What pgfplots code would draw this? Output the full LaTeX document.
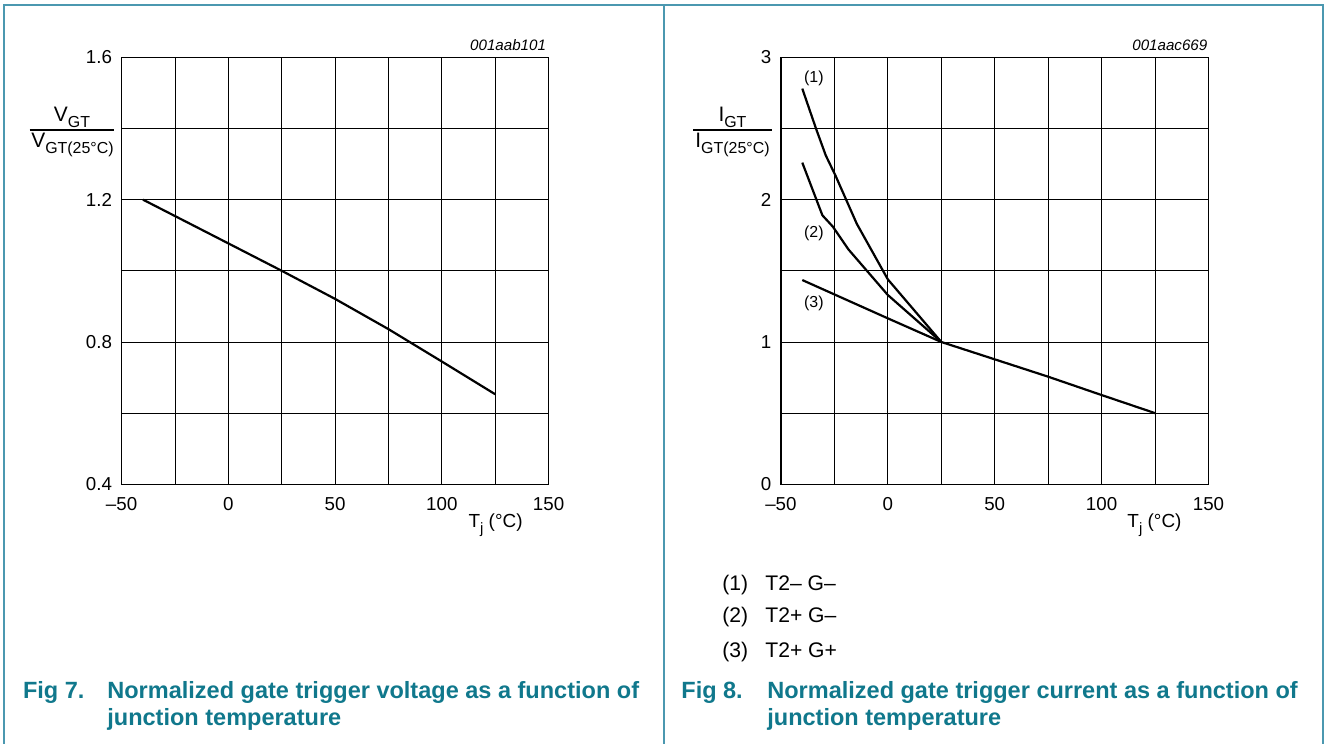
\documentclass[border=0pt]{standalone}
\usepackage{fontspec}
\setmainfont{Liberation Sans}
\usepackage{pgfplots}
\pgfplotsset{compat=1.18}

\definecolor{frame}{RGB}{75,152,176}
\definecolor{captxt}{RGB}{16,120,140}

\newcommand\sub[1]{\raisebox{-0.28em}{\fontsize{8}{9}\selectfont #1}}
\newcommand\xsub[1]{\raisebox{-0.28em}{\fontsize{7.5}{8}\selectfont #1}}

% common look of both graphs: square grid, no tick marks
\pgfplotsset{
  dsgraph/.style={
    anchor=south west,
    scale only axis,
    width=213.5bp, height=213.5bp,
    xmin=-50, xmax=150,
    xtick={-50,0,50,100,150},
    minor xtick={-25,25,75,125},
    xticklabels={–50,0,50,100,150},
    grid=both,
    major grid style={black, line width=0.4bp},
    minor grid style={black, line width=0.4bp},
    major tick length=0pt, minor tick length=0pt,
    axis line style={black, line width=0.5bp},
    tick label style={font=\fontsize{9.4}{10}\selectfont},
    xticklabel style={yshift=-3bp},
    yticklabel style={xshift=-1.3bp},
    clip=false,
  },
  curve/.style={black, line width=1.1bp},
}

\begin{document}
\begin{tikzpicture}
\path[use as bounding box] (0,0) rectangle (663bp,372bp);

% Fig 7: V_GT / V_GT(25C)
\begin{axis}[dsgraph, at={(60.8bp,129.85bp)},
  ymin=0.4, ymax=1.6,
  ytick={0.4,0.8,1.2,1.6},
  minor ytick={0.6,1.0,1.4},
  yticklabels={0.4,0.8,1.2,1.6},
]
\addplot[curve] table {
  -40  1.200
  0    1.077
  25   1.000
  50   0.921
  75   0.836
  100  0.745
  125  0.653
};
\end{axis}

% Fig 8: I_GT / I_GT(25C)
\begin{axis}[dsgraph, at={(390.45bp,129.85bp)}, width=213.8bp,
  ymin=0, ymax=3,
  ytick={0,1,2,3},
  minor ytick={0.5,1.5,2.5},
  yticklabels={0,1,2,3},
]
% (1) T2- G-
\addplot[curve] table {
  -40    2.78
  -33.6  2.50
  -29    2.31
  -24.5  2.17
  -14.5  1.83
  0      1.44
  25     1.00
};
% (2) T2+ G-
\addplot[curve] table {
  -40    2.26
  -30.6  1.89
  -25.7  1.81
  -18.4  1.65
  0      1.33
  25     1.00
};
% (3) T2+ G+
\addplot[curve] table {
  -40   1.435
  0     1.166
  25    1.000
  50    0.878
  75    0.756
  100   0.627
  125   0.500
};
\node[font=\fontsize{8}{9}\selectfont] at (axis cs:-34.6,2.85) {(1)};
\node[font=\fontsize{8}{9}\selectfont] at (axis cs:-34.6,1.76) {(2)};
\node[font=\fontsize{8}{9}\selectfont] at (axis cs:-34.6,1.27) {(3)};
\end{axis}

% annotations in pixel units of the reference (y downwards)
\begin{scope}[x=0.5bp, y=-0.5bp, yshift=372bp]
  % panel frame
  \draw[frame, line width=1bp] (4.5,744) -- (4.5,4.7) -- (1323,4.7) -- (1323,744);
  \draw[frame, line width=1bp] (664,4.7) -- (664,744);

  % drawing numbers
  \node[anchor=base east, inner sep=0, font=\fontsize{7.6}{8}\selectfont\itshape] at (546.4,50.5) {001aab101};
  \node[anchor=base east, inner sep=0, font=\fontsize{7.6}{8}\selectfont\itshape] at (1207.7,50.5) {001aac669};

  % y labels as fractions
  \node[anchor=base, inner sep=0, font=\fontsize{10.5}{11}\selectfont] at (72,121.5) {V\sub{GT}};
  \draw[line width=0.6bp] (29.6,130) -- (114,130);
  \node[anchor=base, inner sep=0, font=\fontsize{10.5}{11}\selectfont] at (72.5,148) {V\sub{GT(25°C)}};

  \node[anchor=base, inner sep=0, font=\fontsize{10.5}{11}\selectfont] at (732.5,121.5) {I\sub{GT}};
  \draw[line width=0.6bp] (693.5,130) -- (771.6,130);
  \node[anchor=base, inner sep=0, font=\fontsize{10.5}{11}\selectfont] at (732.5,148) {I\sub{GT(25°C)}};

  % x labels
  \node[anchor=base, inner sep=0, font=\fontsize{9.5}{10}\selectfont] at (495.6,528) {T\xsub{j} (°C)};
  \node[anchor=base, inner sep=0, font=\fontsize{9.5}{10}\selectfont] at (1154.5,528) {T\xsub{j} (°C)};

  % key of Fig 8
  \begin{scope}[every node/.style={anchor=base west, inner sep=0, font=\fontsize{10.6}{11}\selectfont}]
    \node at (722,591) {(1)}; \node at (765,591) {T2– G–};
    \node at (722,623) {(2)}; \node at (765,623) {T2+ G–};
    \node at (722,657.5) {(3)}; \node at (765,657.5) {T2+ G+};
  \end{scope}

  % captions
  \begin{scope}[every node/.style={anchor=base west, inner sep=0, text=captxt, font=\fontsize{11.8}{13}\selectfont\bfseries}]
    \node at (22.7,699) {Fig 7.};
    \node at (107,699) {Normalized gate trigger voltage as a function of};
    \node at (107,726) {junction temperature};
    \node at (681,699) {Fig 8.};
    \node at (767,699) {Normalized gate trigger current as a function of};
    \node at (767,726) {junction temperature};
  \end{scope}
\end{scope}
\end{tikzpicture}
\end{document}
